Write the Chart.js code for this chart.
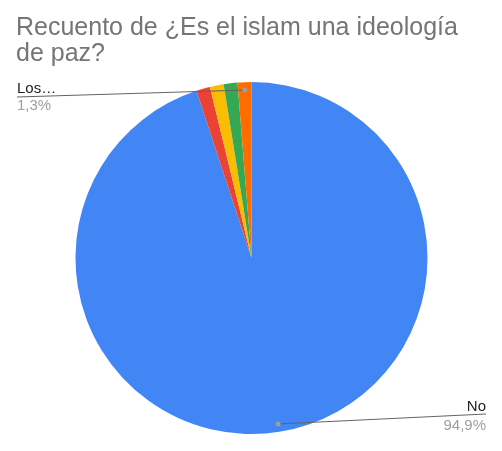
<!DOCTYPE html>
<html><head><meta charset="utf-8">
<script src="https://cdn.jsdelivr.net/npm/chart.js@4"></script>
<style>html,body{margin:0;padding:0;background:#fff;}#wrap{position:relative;width:502px;height:451px;}</style>
</head><body><div id="wrap"><canvas id="c" width="502" height="451"></canvas></div>
<script>
const titleLines = ["Recuento de ¿Es el islam una ideología", "de paz?"];
const categories = ["No", "Sí", "No lo sé", "Depende", "Los…"];
const counts = [75, 1, 1, 1, 1];
const percentLabels = ["94,9%", "1,3%", "1,3%", "1,3%", "1,3%"];
const colors = ["#4285f4", "#ea4335", "#fbbc04", "#34a853", "#ff6d01"];
const shownLabels = [0, 4];

const FONT = '"Liberation Sans", Arial, sans-serif';

const overlay = {
  id: 'overlay',
  afterDraw(chart) {
    const ctx = chart.ctx;
    ctx.save();
    ctx.fillStyle = '#757575';
    ctx.font = '25px ' + FONT;
    ctx.textAlign = 'left';
    ctx.textBaseline = 'alphabetic';
    ctx.fillText(titleLines[0], 16, 35);
    ctx.fillText(titleLines[1], 16, 61);

    const meta = chart.getDatasetMeta(0);
    const labelPos = {
      4: {side: 'left', x: 17, lineY: 97, nameY: 93, pctY: 110},
      0: {side: 'right', x: 486, lineY: 414, nameY: 411, pctY: 430}
    };
    shownLabels.forEach(i => {
      const arc = meta.data[i];
      const p = arc.getProps(['x','y','startAngle','endAngle','outerRadius'], true);
      const mid = (p.startAngle + p.endAngle) / 2;
      const r = p.outerRadius * 0.955;
      const dx = p.x + Math.cos(mid) * r;
      const dy = p.y + Math.sin(mid) * r;
      const lp = labelPos[i];
      ctx.strokeStyle = '#636363';
      ctx.lineWidth = 1;
      ctx.beginPath();
      ctx.moveTo(dx, dy);
      ctx.lineTo(lp.x, lp.lineY);
      ctx.stroke();
      ctx.fillStyle = '#9e9e9e';
      ctx.beginPath();
      ctx.arc(dx, dy, 2.5, 0, Math.PI * 2);
      ctx.fill();
      ctx.textAlign = lp.side === 'left' ? 'left' : 'right';
      ctx.font = '15px ' + FONT;
      ctx.fillStyle = '#222222';
      ctx.fillText(categories[i], lp.x, lp.nameY);
      ctx.fillStyle = '#9e9e9e';
      ctx.fillText(percentLabels[i], lp.x, lp.pctY);
    });
    ctx.restore();
  }
};

new Chart(document.getElementById('c'), {
  type: 'pie',
  data: {
    labels: categories,
    datasets: [{
      data: counts,
      backgroundColor: colors,
      borderWidth: 0
    }]
  },
  options: {
    responsive: false,
    animation: false,
    devicePixelRatio: 1,
    layout: {padding: {top: 82, bottom: 17, left: 75, right: 74}},
    plugins: {legend: {display: false}, tooltip: {enabled: false}, title: {display: false}}
  },
  plugins: [overlay]
});
</script>
</body></html>
